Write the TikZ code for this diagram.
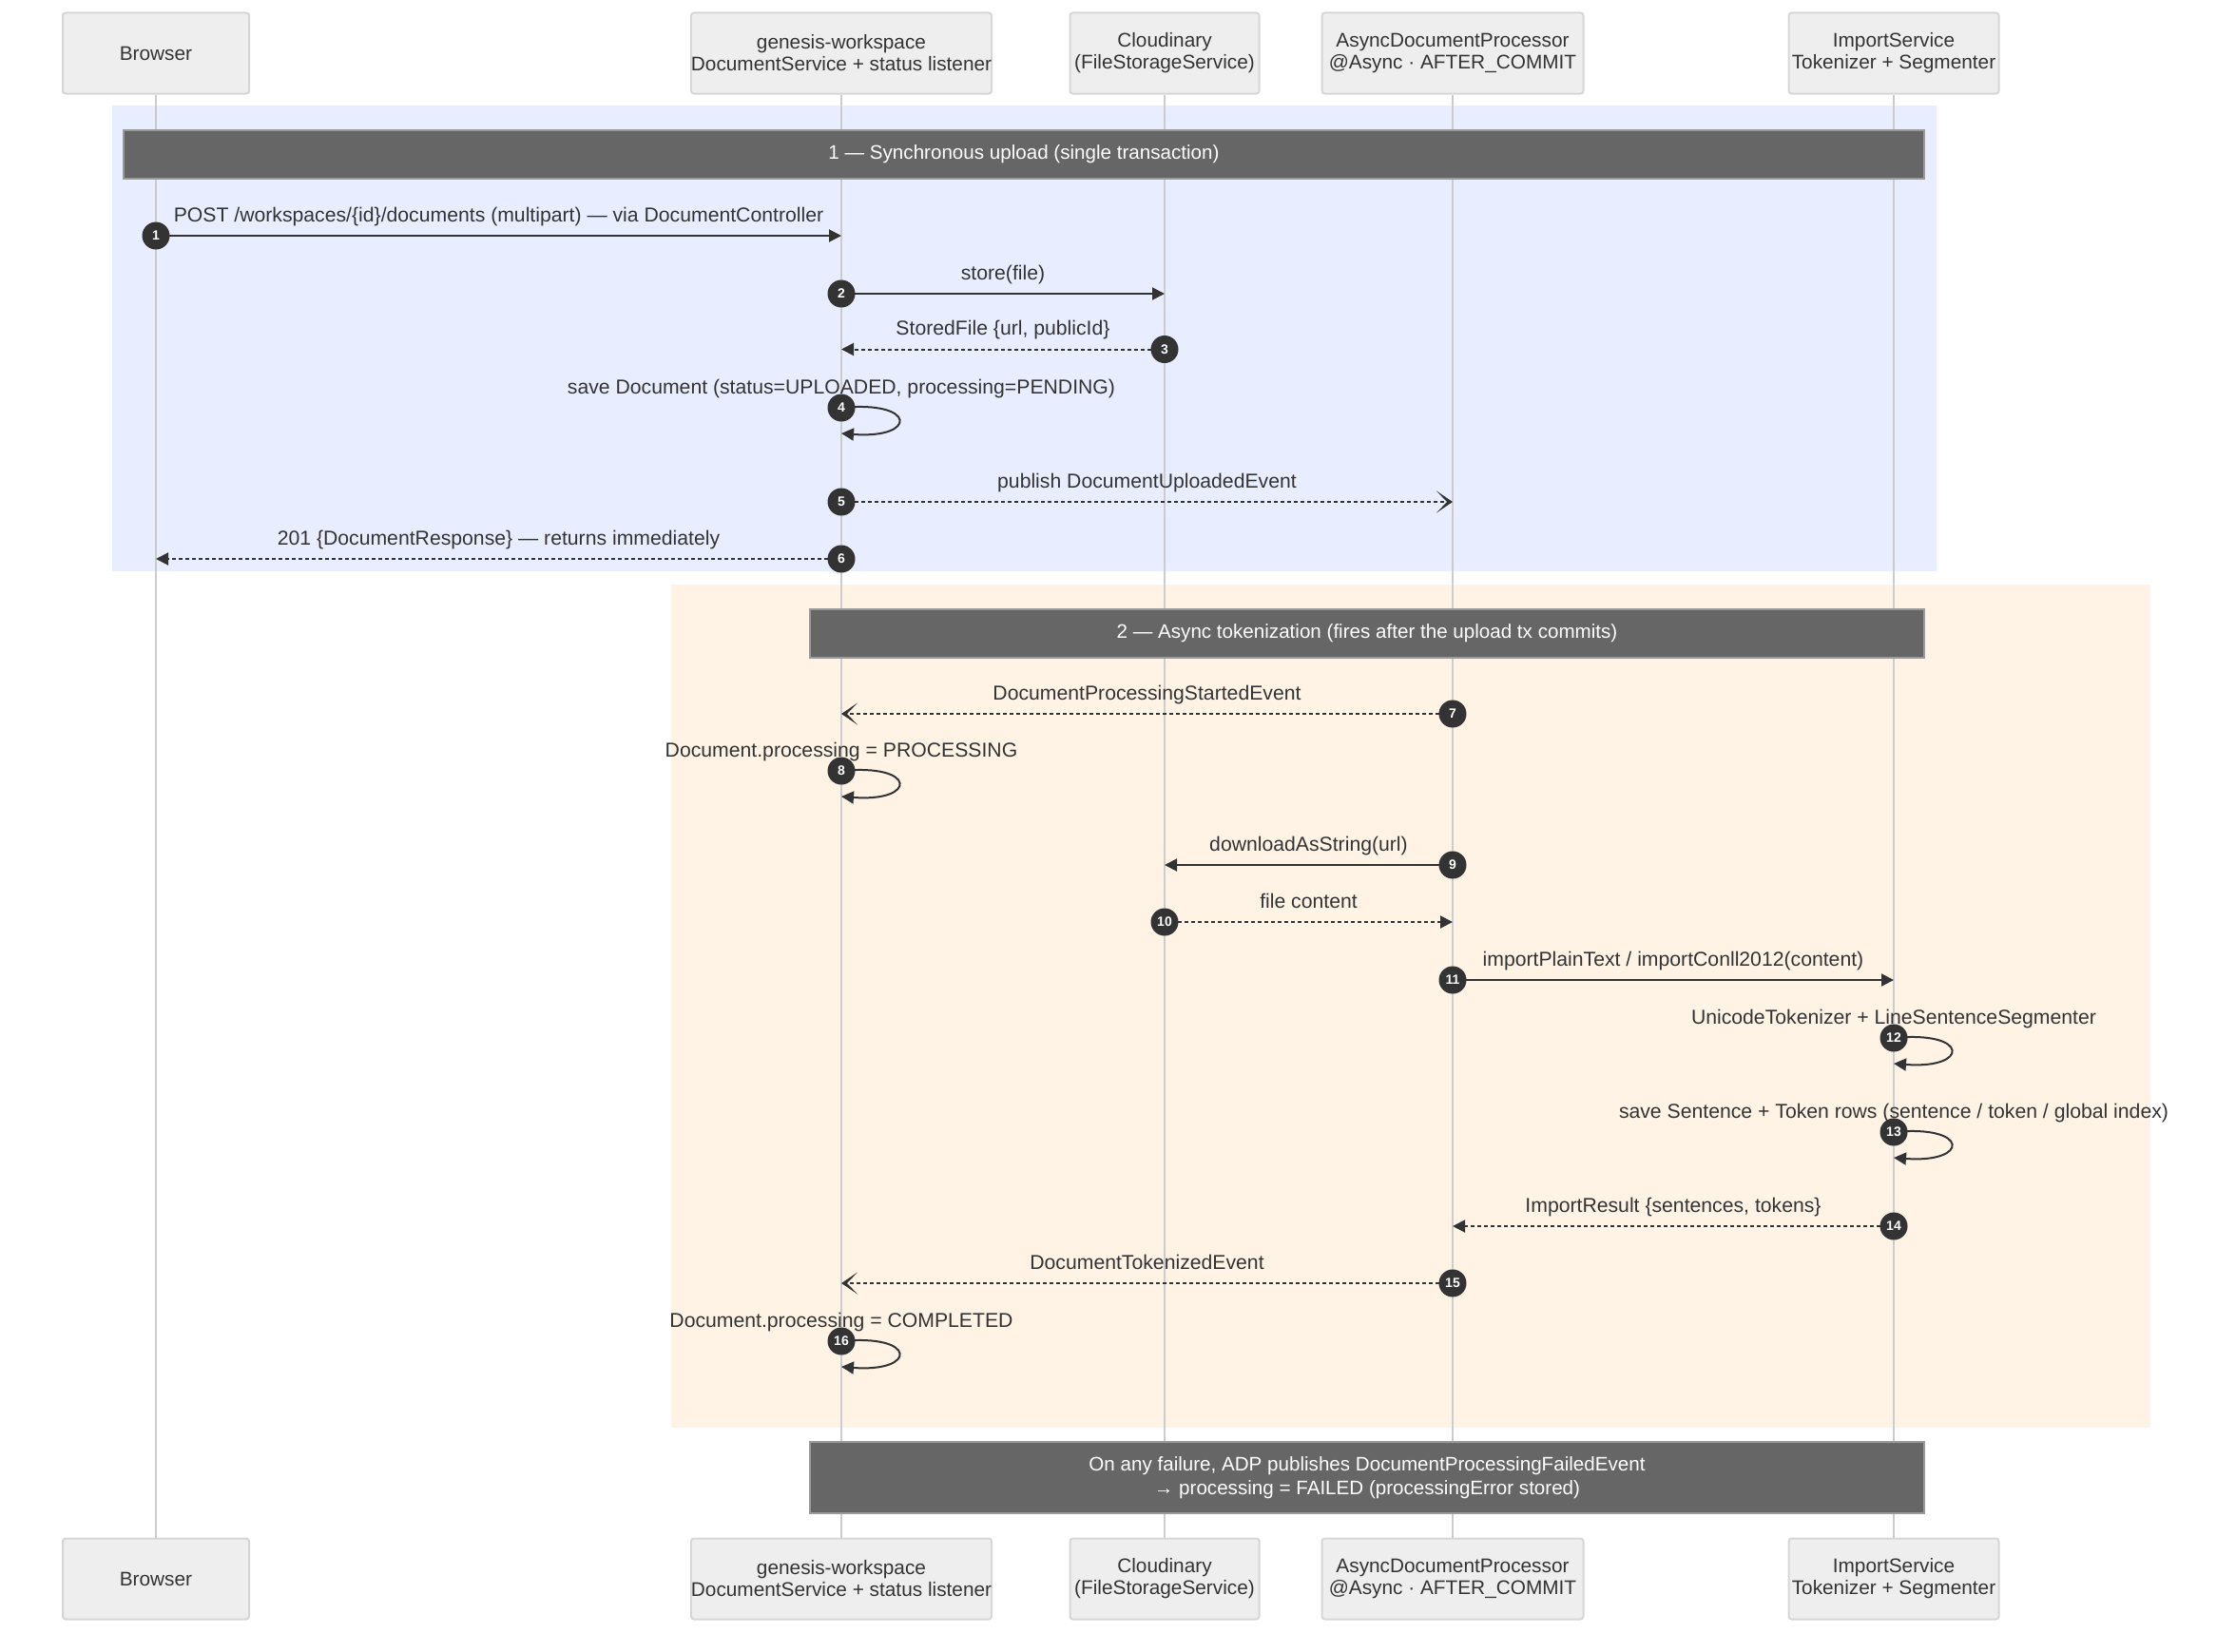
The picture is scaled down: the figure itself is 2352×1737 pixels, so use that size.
\documentclass[tikz,border=0pt]{standalone}
\usepackage{fontspec}
\setmainfont{Liberation Sans}
\usetikzlibrary{arrows.meta}
\definecolor{ink}{HTML}{333333}
\definecolor{lifegray}{HTML}{CCCCCC}
\definecolor{actorfill}{HTML}{EEEEEE}
\definecolor{actorline}{HTML}{D6D6D6}
\definecolor{syncbg}{HTML}{E8EEFF}
\definecolor{asyncbg}{HTML}{FFF3E6}
\definecolor{notefill}{HTML}{666666}
\definecolor{noteline}{HTML}{9A9A9A}
\tikzset{
  actor/.style={draw=actorline, fill=actorfill, line width=2pt, rounded corners=3pt,
    minimum height=85pt, align=center, text=ink, inner xsep=0pt,
    font=\fontsize{20.8}{23}\selectfont},
  sect/.style={draw=noteline, fill=notefill, line width=2pt, text=white, align=center,
    minimum height=51pt, font=\fontsize{20.6}{23}\selectfont},
  num/.style={circle, fill=ink, text=white, minimum size=29pt, inner sep=0pt,
    font=\fontsize{14}{14}\selectfont\bfseries},
  lbl/.style={anchor=base, yshift=15pt, text=ink},
  call/.style={draw=ink, line width=2pt, -{Triangle[length=13pt,width=13pt]}},
  reply/.style={call, dash pattern=on 4pt off 3pt},
  event/.style={draw=ink, line width=2pt, dash pattern=on 4pt off 3pt,
    -{Stealth[length=17pt,width=23pt,inset=11pt]}},
}
\begin{document}
\begin{tikzpicture}[x=1pt,y=-1pt,font=\fontsize{21.2}{23}\selectfont]
\useasboundingbox (0,0) rectangle (2352,1737);
\fill[syncbg] (118,111) rectangle (2037,601);
\fill[asyncbg] (706,615) rectangle (2262,1502);

\node[actor, minimum width=196pt] (browser) at (164,56) {Browser};
\node[actor, minimum width=313pt] (gw) at (885,56) {genesis-workspace\\DocumentService + status listener};
\node[actor, minimum width=199pt] (cloud) at (1225,56) {Cloudinary\\(FileStorageService)};
\node[actor, minimum width=275pt] (adp) at (1528,56) {AsyncDocumentProcessor\\@Async · AFTER\_COMMIT};
\node[actor, minimum width=221pt] (imp) at (1992,56) {ImportService\\Tokenizer + Segmenter};
\node[actor, minimum width=196pt] (browser-b) at (164,1661) {Browser};
\node[actor, minimum width=313pt] (gw-b) at (885,1661) {genesis-workspace\\DocumentService + status listener};
\node[actor, minimum width=199pt] (cloud-b) at (1225,1661) {Cloudinary\\(FileStorageService)};
\node[actor, minimum width=275pt] (adp-b) at (1528,1661) {AsyncDocumentProcessor\\@Async · AFTER\_COMMIT};
\node[actor, minimum width=221pt] (imp-b) at (1992,1661) {ImportService\\Tokenizer + Segmenter};
\foreach \p in {browser,gw,cloud,adp,imp}
  \draw[lifegray, line width=2.5pt] (\p.south) -- (\p-b.north);

\node[sect, minimum width=1894pt] (sec1) at (1077,162.5) {1 — Synchronous upload (single transaction)};
\node[sect, minimum width=1172pt] (sec2) at (1438,666) {2 — Async tokenization (fires after the upload tx commits)};
\node[sect, minimum width=1172pt, minimum height=75pt, font=\fontsize{20.6}{25}\selectfont] (fail) at (1438,1554.5)
  {On any failure, ADP publishes DocumentProcessingFailedEvent\\→ processing = FAILED (processingError stored)};

\coordinate (c1) at (browser |- 0,248);
\coordinate (c2) at (gw |- 0,309);
\coordinate (c3) at (cloud |- 0,367.5);
\coordinate (c4) at (gw |- 0,429);
\coordinate (c5) at (gw |- 0,528);
\coordinate (c6) at (gw |- 0,588);
\coordinate (c7) at (adp |- 0,751);
\coordinate (c8) at (gw |- 0,811);
\coordinate (c9) at (adp |- 0,910);
\coordinate (c10) at (cloud |- 0,970);
\coordinate (c11) at (adp |- 0,1031);
\coordinate (c12) at (imp |- 0,1092);
\coordinate (c13) at (imp |- 0,1191);
\coordinate (c14) at (imp |- 0,1290);
\coordinate (c15) at (adp |- 0,1350);
\coordinate (c16) at (gw |- 0,1411);

\draw[call] (c1) -- node[lbl] (m1) {POST /workspaces/\{id\}/documents (multipart) — via DocumentController} (c1 -| gw);
\draw[call] (c2) -- node[lbl] (m2) {store(file)} (c2 -| cloud);
\draw[reply] (c3) -- node[lbl] (m3) {StoredFile \{url, publicId\}} (c3 -| gw);
\draw[call] (c4) .. controls +(80,-8) and +(80,6) .. ++(0,27);
\node[lbl] (m4) at (c4) {save Document (status=UPLOADED, processing=PENDING)};
\draw[event] (c5) -- node[lbl] (m5) {publish DocumentUploadedEvent} (c5 -| adp);
\draw[reply] (c6) -- node[lbl] (m6) {201 \{DocumentResponse\} — returns immediately} (c6 -| browser);
\draw[event] (c7) -- node[lbl] (m7) {DocumentProcessingStartedEvent} (c7 -| gw);
\draw[call] (c8) .. controls +(80,-8) and +(80,6) .. ++(0,27);
\node[lbl] (m8) at (c8) {Document.processing = PROCESSING};
\draw[call] (c9) -- node[lbl] (m9) {downloadAsString(url)} (c9 -| cloud);
\draw[reply] (c10) -- node[lbl] (m10) {file content} (c10 -| adp);
\draw[call] (c11) -- node[lbl] (m11) {importPlainText / importConll2012(content)} (c11 -| imp);
\draw[call] (c12) .. controls +(80,-8) and +(80,6) .. ++(0,27);
\node[lbl] (m12) at (c12) {UnicodeTokenizer + LineSentenceSegmenter};
\draw[call] (c13) .. controls +(80,-8) and +(80,6) .. ++(0,27);
\node[lbl] (m13) at (c13) {save Sentence + Token rows (sentence / token / global index)};
\draw[reply] (c14) -- node[lbl] (m14) {ImportResult \{sentences, tokens\}} (c14 -| adp);
\draw[event] (c15) -- node[lbl] (m15) {DocumentTokenizedEvent} (c15 -| gw);
\draw[call] (c16) .. controls +(80,-8) and +(80,6) .. ++(0,27);
\node[lbl] (m16) at (c16) {Document.processing = COMPLETED};

\foreach \i in {1,...,16}
  \node[num] (n\i) at (c\i) {\i};
\end{tikzpicture}
\end{document}
